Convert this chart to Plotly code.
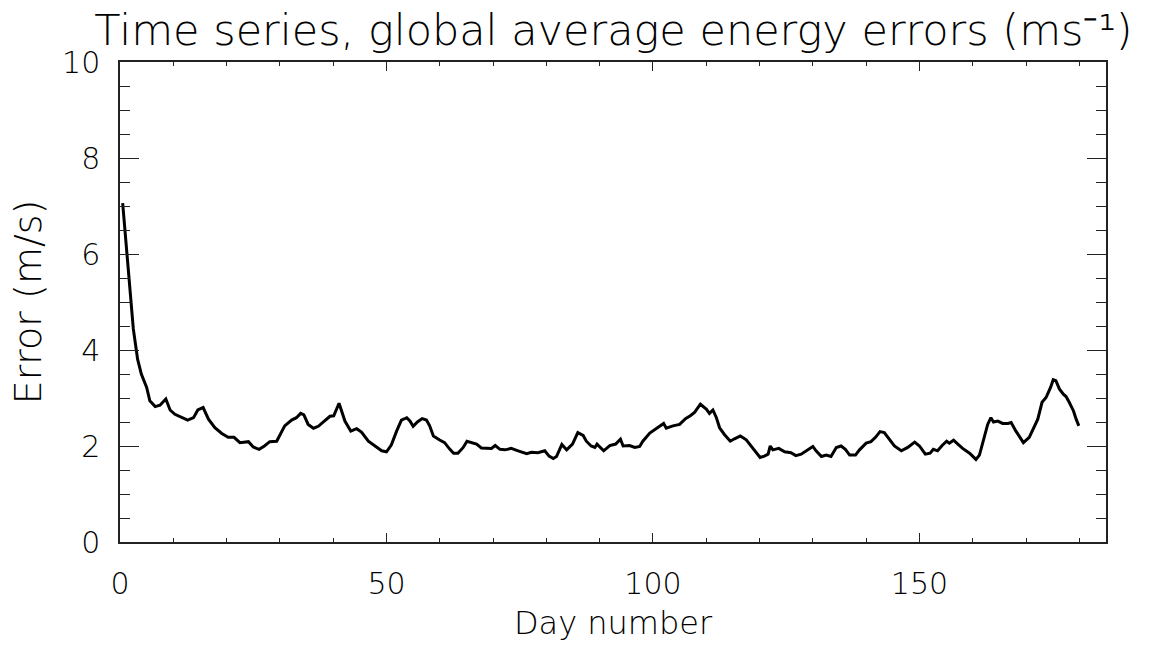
import plotly.graph_objects as go

days = [0.5, 1.25, 1.9, 2.5, 3.3, 4.0, 5.0, 5.6, 6.6, 7.5, 8.6, 9.4, 10.3, 11.6, 12.7, 13.8,
        14.6, 15.6, 16.6, 17.8, 19.1, 20.3, 21.4, 22.5, 24.1, 25.0, 26.1, 27.1, 28.1, 29.4,
        30.9, 32.2, 33.1, 33.9, 34.5, 35.3, 36.3, 37.2, 38.4, 39.4, 40.1, 41.1, 42.2, 43.3,
        44.4, 45.3, 46.6, 47.8, 49.1, 50.0, 50.9, 51.9, 52.8, 53.8, 54.4, 55.0, 55.8, 56.7,
        57.5, 58.1, 58.8, 59.9, 60.9, 61.9, 62.6, 63.4, 64.4, 65.1, 65.9, 66.9, 67.8, 68.8,
        69.7, 70.4, 71.3, 72.2, 73.4, 74.7, 76.3, 77.2, 78.4, 79.7, 80.5, 81.3, 81.9, 82.9,
        83.8, 84.9, 85.9, 86.9, 87.5, 88.4, 89.1, 89.5, 90.1, 90.75, 91.9, 93.0, 93.9, 94.4,
        95.6, 96.6, 97.5, 98.1, 99.4, 100.6, 102.0, 102.5, 103.75, 105.0, 106.1, 107.0, 107.8,
        108.9, 110.0, 110.6, 111.25, 111.9, 112.5, 113.4, 114.5, 115.3, 116.4, 117.5, 118.6,
        119.4, 120.1, 120.9, 121.6, 122.0, 122.5, 123.6, 124.7, 125.9, 126.8, 127.8, 129.1,
        130.0, 130.6, 131.6, 132.5, 133.4, 134.4, 135.3, 136.1, 136.9, 138.0, 138.75, 140.0,
        140.9, 141.75, 142.6, 143.4, 144.4, 145.3, 146.6, 147.8, 149.1, 150.0, 151.1, 152.0,
        152.6, 153.4, 154.25, 155.1, 155.6, 156.4, 157.2, 158.1, 159.4, 160.6, 161.25, 162.0,
        162.8, 163.4, 163.9, 164.7, 165.6, 166.6, 167.2, 168.1, 168.75, 169.5, 170.6, 171.6,
        172.2, 173.0, 173.75, 174.6, 175.1, 175.6, 176.25, 177.0, 177.5, 178.1, 178.9, 179.4,
        179.9]

errors = [7.06, 6.05, 5.07, 4.44, 3.81, 3.50, 3.22, 2.94, 2.82, 2.85, 2.98, 2.75, 2.66, 2.59,
          2.54, 2.59, 2.75, 2.80, 2.56, 2.38, 2.26, 2.18, 2.18, 2.07, 2.09, 1.98, 1.93, 2.00,
          2.09, 2.10, 2.42, 2.54, 2.59, 2.68, 2.65, 2.45, 2.37, 2.41, 2.52, 2.62, 2.63, 2.89,
          2.52, 2.31, 2.36, 2.29, 2.10, 2.01, 1.90, 1.88, 2.02, 2.31, 2.54, 2.59, 2.52, 2.41,
          2.50, 2.57, 2.54, 2.42, 2.21, 2.13, 2.07, 1.93, 1.85, 1.85, 1.97, 2.10, 2.08, 2.04,
          1.96, 1.95, 1.95, 2.01, 1.93, 1.92, 1.95, 1.90, 1.84, 1.87, 1.86, 1.90, 1.79, 1.74,
          1.78, 2.03, 1.92, 2.04, 2.28, 2.22, 2.10, 2.00, 1.97, 2.04, 1.97, 1.90, 2.01, 2.04,
          2.14, 2.00, 2.01, 1.97, 1.99, 2.10, 2.27, 2.36, 2.47, 2.37, 2.42, 2.45, 2.57, 2.63,
          2.70, 2.87, 2.77, 2.68, 2.75, 2.59, 2.38, 2.24, 2.10, 2.15, 2.21, 2.13, 1.97, 1.86,
          1.76, 1.79, 1.83, 2.00, 1.92, 1.95, 1.88, 1.86, 1.80, 1.83, 1.93, 1.99, 1.90, 1.78,
          1.81, 1.78, 1.97, 2.00, 1.93, 1.81, 1.81, 1.92, 2.06, 2.09, 2.18, 2.30, 2.28, 2.14,
          2.00, 1.90, 1.97, 2.08, 2.00, 1.83, 1.85, 1.93, 1.90, 2.01, 2.10, 2.06, 2.12, 2.04,
          1.95, 1.85, 1.72, 1.81, 2.10, 2.45, 2.59, 2.50, 2.52, 2.47, 2.47, 2.49, 2.31, 2.21,
          2.07, 2.18, 2.42, 2.56, 2.91, 3.01, 3.22, 3.38, 3.36, 3.19, 3.08, 3.03, 2.91, 2.73,
          2.56, 2.42]

x_ticks = [0, 50, 100, 150]
y_ticks = [0, 2, 4, 6, 8, 10]

FONT = "DejaVu Sans ExtraLight, DejaVu Sans"
TXT = "#000000"

fig = go.Figure()
fig.add_trace(go.Scatter(x=days, y=errors, mode="lines",
                         line=dict(color="black", width=3), showlegend=False))

axis_common = dict(
    showgrid=False, zeroline=False, showline=True, linecolor="#222", linewidth=1.5,
    mirror="ticks", ticks="inside", tickcolor="#222", tickwidth=1.2,
    tickfont=dict(family=FONT, size=30, color=TXT, weight=200),
)

fig.update_xaxes(
    range=[0, 185], tickvals=x_ticks, ticktext=[str(v) for v in x_ticks],
    ticklen=9, ticklabelstandoff=14,
    minor=dict(dtick=10, tick0=0, ticklen=4, ticks="inside", tickcolor="#222", tickwidth=1.2),
    title=dict(text="Day number", font=dict(family=FONT, size=32, color=TXT, weight=200), standoff=12),
    **axis_common,
)
fig.update_yaxes(
    range=[0, 10], tickvals=y_ticks, ticktext=[str(v) for v in y_ticks],
    ticklen=19, ticklabelstandoff=12,
    minor=dict(dtick=0.5, tick0=0, ticklen=10, ticks="inside", tickcolor="#222", tickwidth=1.2),
    title=dict(text="Error (m/s)", font=dict(family=FONT, size=38, color=TXT, weight=200), standoff=9),
    **axis_common,
)

fig.update_layout(
    width=1153, height=646,
    margin=dict(l=120, r=47, t=62, b=104, autoexpand=False),
    paper_bgcolor="white", plot_bgcolor="white",
    title=dict(text="Time series, global average energy errors (ms\u207b\u00b9)",
               font=dict(family=FONT, size=43, color=TXT, weight=200),
               x=0.532, xanchor="center", y=0.954, yanchor="middle", yref="container"),
)

fig.write_html("out.html")
